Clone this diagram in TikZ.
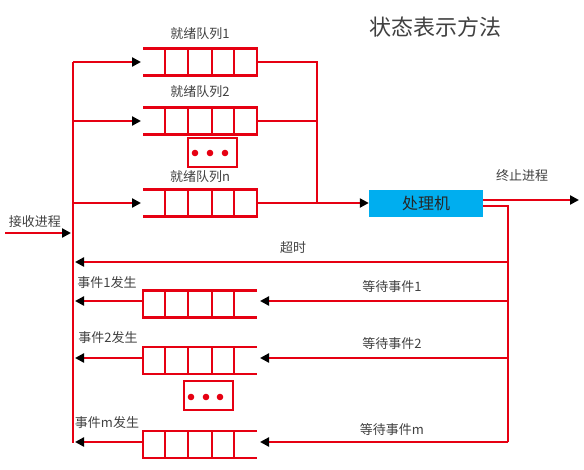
\documentclass[tikz,border=0pt]{standalone}
\usepackage{fontspec}
\setmainfont{Noto Sans CJK SC}
\usetikzlibrary{arrows.meta}
\definecolor{qred}{RGB}{230,0,18}
\definecolor{cpublue}{RGB}{0,174,239}
\definecolor{txt}{RGB}{64,64,64}
\begin{document}
\begin{tikzpicture}[x=1pt,y=-1pt,
  wire/.style={qred,line width=2.8pt},
  arr/.style={wire,-{Triangle[length=9pt,width=9pt,color=black]}},
  lbl/.style={text=txt,font=\fontsize{13}{13}\selectfont,inner sep=0pt},
  dotbox/.style={draw=qred,line width=2.8pt,minimum width=49pt,minimum height=29pt,inner sep=0pt},
  readyq/.pic={
    \draw[wire] (-57,-13.5) -- (57,-13.5) -- (57,13.5) -- (-57,13.5);
    \foreach \d in {-35,-12,12,34} \draw[wire] (\d,-13.5) -- (\d,13.5);
    \coordinate (-w) at (-59,0);
    \coordinate (-e) at (57,0);
  },
  eventq/.pic={
    \draw[wire] (57,-13.5) -- (-57,-13.5) -- (-57,13.5) -- (57,13.5);
    \foreach \d in {-35,-12,12,34} \draw[wire] (\d,-13.5) -- (\d,13.5);
    \coordinate (-w) at (-57,0);
    \coordinate (-e) at (60,0);
  }
]
\useasboundingbox (0,0) rectangle (584,469);

% title
\node[text=txt,font=\fontsize{22}{22}\selectfont,inner sep=0pt] (title) at (435,27) {状态表示方法};

% ready queues
\pic (q1) at (200,62) {readyq};
\pic (q2) at (200,121) {readyq};
\pic (qn) at (200,203) {readyq};
\node[lbl] (l1) at (200,34) {就绪队列1};
\node[lbl] (l2) at (200,92) {就绪队列2};
\node[lbl] (ln) at (200,177) {就绪队列n};

\node[dotbox] (d1) at (212.5,152.5) {};
\foreach \x in {195,210,225} \fill[qred] (\x,153) circle (3.3pt);

% bus
\coordinate (bt) at (73,62);
\coordinate (b2) at (73,121);
\coordinate (bn) at (73,203);
\coordinate (bin) at (71,233);
\coordinate (bto) at (75,262);
\coordinate (be1) at (75,301);
\coordinate (be2) at (75,358);
\coordinate (bem) at (75,442);
\coordinate (bb) at (73,443.4);
\draw[wire] (bt) -- (bb);

\coordinate (src) at (5,233);
\draw[arr] (src) -- (bin);
\node[lbl] (recv) at (35,222) {接收进程};

\draw[arr] (bt) -- (q1-w);
\draw[arr] (b2) -- (q2-w);
\draw[arr] (bn) -- (qn-w);

% right collector
\coordinate (c1) at (317,62);
\coordinate (c2) at (317,121);
\coordinate (cn) at (317,203);
\draw[wire] (q1-e) -- (c1) -- (cn);
\draw[wire] (q2-e) -- (c2);
\draw[wire] (qn-e) -- (cn);

% processor
\node[fill=cpublue,minimum width=114pt,minimum height=27pt,inner sep=0pt,
      font=\fontsize{16}{16}\selectfont,text=black!85] (cpu) at (426,203) {处理机};
\draw[arr] (cn) -- (cpu.west);

\coordinate (out) at (579,200);
\draw[arr] ([yshift=3pt]cpu.east) -- (out);
\node[lbl] (term) at (522,176) {终止进程};

\coordinate (rt) at (508,206);
\coordinate (rto) at (508,262);
\coordinate (re1) at (508,301);
\coordinate (re2) at (508,358);
\coordinate (rem) at (508,442);
\draw[wire] ([yshift=-3pt]cpu.east) -| (rt) -- (rem);

% timeout
\draw[arr] (rto) -- (bto);
\node[lbl] (tout) at (293,248) {超时};

% event queues
\pic (e1) at (200,304) {eventq};
\pic (e2) at (200,360.5) {eventq};
\pic (em) at (200,444.5) {eventq};

\coordinate (e1in) at (260,301);
\coordinate (e2in) at (260,358);
\coordinate (emin) at (260,442);
\draw[arr] (re1) -- (e1in);
\draw[arr] (re2) -- (e2in);
\draw[wire] (rem) -- +(-20,0);
\draw[arr] (rem) -- (emin);

\coordinate (e1out) at (143,301);
\coordinate (e2out) at (143,358);
\coordinate (emout) at (143,442);
\draw[arr] (e1out) -- (be1);
\draw[arr] (e2out) -- (be2);
\draw[arr] (emout) -- (bem);

\node[lbl] (w1) at (392,287) {等待事件1};
\node[lbl] (w2) at (392,344) {等待事件2};
\node[lbl] (wm) at (392,430) {等待事件m};
\node[lbl] (h1) at (107,283) {事件1发生};
\node[lbl] (h2) at (108,338) {事件2发生};
\node[lbl] (hm) at (107,423) {事件m发生};

\node[dotbox] (d2) at (208.5,395.5) {};
\foreach \x in {191,206,220} \fill[qred] (\x,397) circle (3.3pt);
\end{tikzpicture}
\end{document}
